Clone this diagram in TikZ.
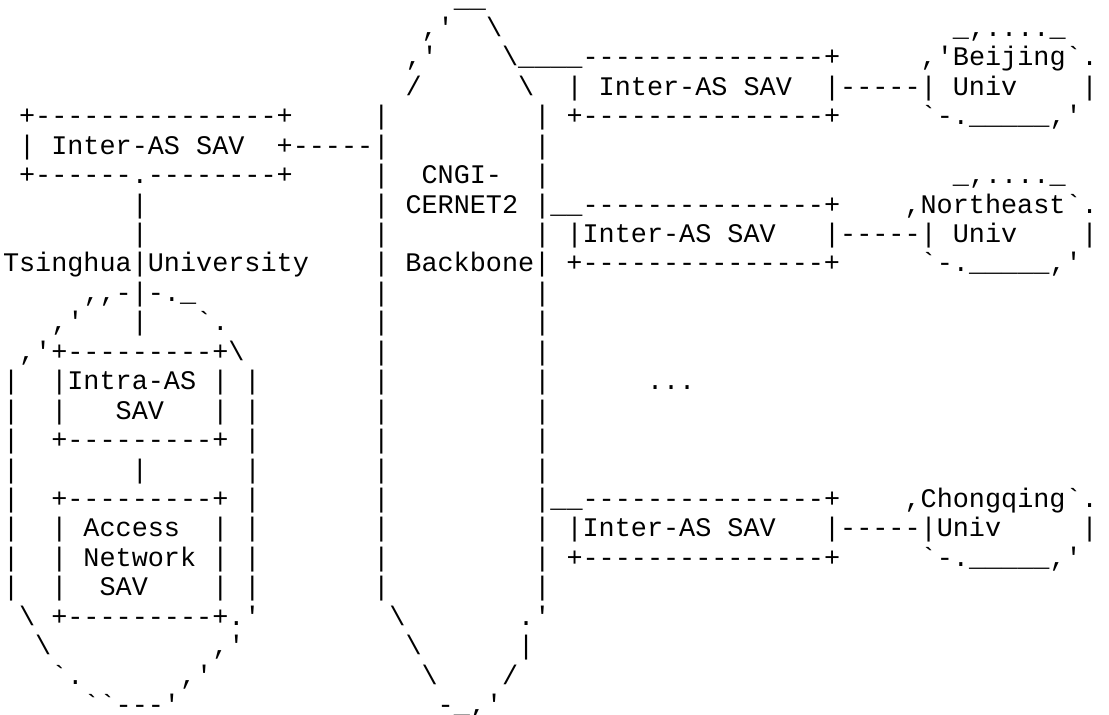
\documentclass[tikz,border=0pt]{standalone}
\usepackage{fontspec}
\setmonofont{Liberation Mono}
\usepackage{tikz}

% huecos de n columnas
\newcommand\esp[1]{\kern#1\fontcharwd\font`x\relax}
\newcommand\barra{\textbackslash}

\begin{document}
\begin{tikzpicture}[x=1pt, y=-1pt,
  fila/.style={anchor=base west, inner sep=0pt, outer sep=0pt,
    font=\ttfamily\fontsize{26.83pt}{29.44pt}\selectfont\frenchspacing}]
\useasboundingbox (0,0) rectangle (1109,715);

% Red troncal y universidades
\node[fila] (r0) at (3,7) {\esp{28}\_\_};
\node[fila] (r1) at (3,36.44) {\esp{26},'\esp{2}\barra\esp{28}\_,....\_};
\node[fila] (r2) at (3,65.88) {\esp{25},'\esp{4}\barra\_\_\_\_---------------+\esp{5},'Beijing`.};
\node[fila] (r3) at (3,95.32) {\esp{25}/\esp{6}\barra\esp{2}| Inter-AS SAV\esp{2}|-----| Univ\esp{4}|};
\node[fila] (r4) at (3,124.76) {\esp{1}+---------------+\esp{5}|\esp{9}|\esp{1}+---------------+\esp{5}`-.\_\_\_\_\_,'};
\node[fila] (r5) at (3,154.2) {\esp{1}| Inter-AS SAV\esp{2}+-----|\esp{9}|};
\node[fila] (r6) at (3,183.64) {\esp{1}+------.--------+\esp{5}|\esp{2}CNGI-\esp{2}|\esp{25}\_,....\_};
\node[fila] (r7) at (3,213.08) {\esp{8}|\esp{14}|\esp{1}CERNET2\esp{1}|\_\_---------------+\esp{4},Northeast`.};
\node[fila] (r8) at (3,242.52) {\esp{8}|\esp{14}|\esp{9}|\esp{1}|Inter-AS SAV\esp{3}|-----| Univ\esp{4}|};
\node[fila] (r9) at (3,271.96) {Tsinghua|University\esp{4}| Backbone|\esp{1}+---------------+\esp{5}`-.\_\_\_\_\_,'};

% Red de Tsinghua
\node[fila] (r10) at (3,301.4) {\esp{5},,-|-.\_\esp{11}|\esp{9}|};
\node[fila] (r11) at (3,330.84) {\esp{3},'\esp{3}|\esp{3}`.\esp{9}|\esp{9}|};
\node[fila] (r12) at (3,360.28) {\esp{1},'+---------+\barra\esp{8}|\esp{9}|};
\node[fila] (r13) at (3,389.72) {|\esp{2}|Intra-AS |\esp{1}|\esp{7}|\esp{9}|\esp{6}...};
\node[fila] (r14) at (3,419.16) {|\esp{2}|\esp{3}SAV\esp{3}|\esp{1}|\esp{7}|\esp{9}|};
\node[fila] (r15) at (3,448.6) {|\esp{2}+---------+\esp{1}|\esp{7}|\esp{9}|};
\node[fila] (r16) at (3,478.04) {|\esp{7}|\esp{6}|\esp{7}|\esp{9}|};
\node[fila] (r17) at (3,507.48) {|\esp{2}+---------+\esp{1}|\esp{7}|\esp{9}|\_\_---------------+\esp{4},Chongqing`.};
\node[fila] (r18) at (3,536.92) {|\esp{2}| Access\esp{2}|\esp{1}|\esp{7}|\esp{9}|\esp{1}|Inter-AS SAV\esp{3}|-----|Univ\esp{5}|};
\node[fila] (r19) at (3,566.36) {|\esp{2}| Network |\esp{1}|\esp{7}|\esp{9}|\esp{1}+---------------+\esp{5}`-.\_\_\_\_\_,'};
\node[fila] (r20) at (3,595.8) {|\esp{2}|\esp{2}SAV\esp{4}|\esp{1}|\esp{7}|\esp{9}|};
\node[fila] (r21) at (3,625.24) {\esp{1}\barra\esp{1}+---------+.'\esp{8}\barra\esp{7}.'};
\node[fila] (r22) at (3,654.68) {\esp{2}\barra\esp{10},'\esp{10}\barra\esp{6}|};
\node[fila] (r23) at (3,684.12) {\esp{3}`.\esp{6},'\esp{13}\barra\esp{4}/};
\node[fila] (r24) at (3,713.56) {\esp{5}``---'\esp{16}-\_,'};
\end{tikzpicture}
\end{document}
